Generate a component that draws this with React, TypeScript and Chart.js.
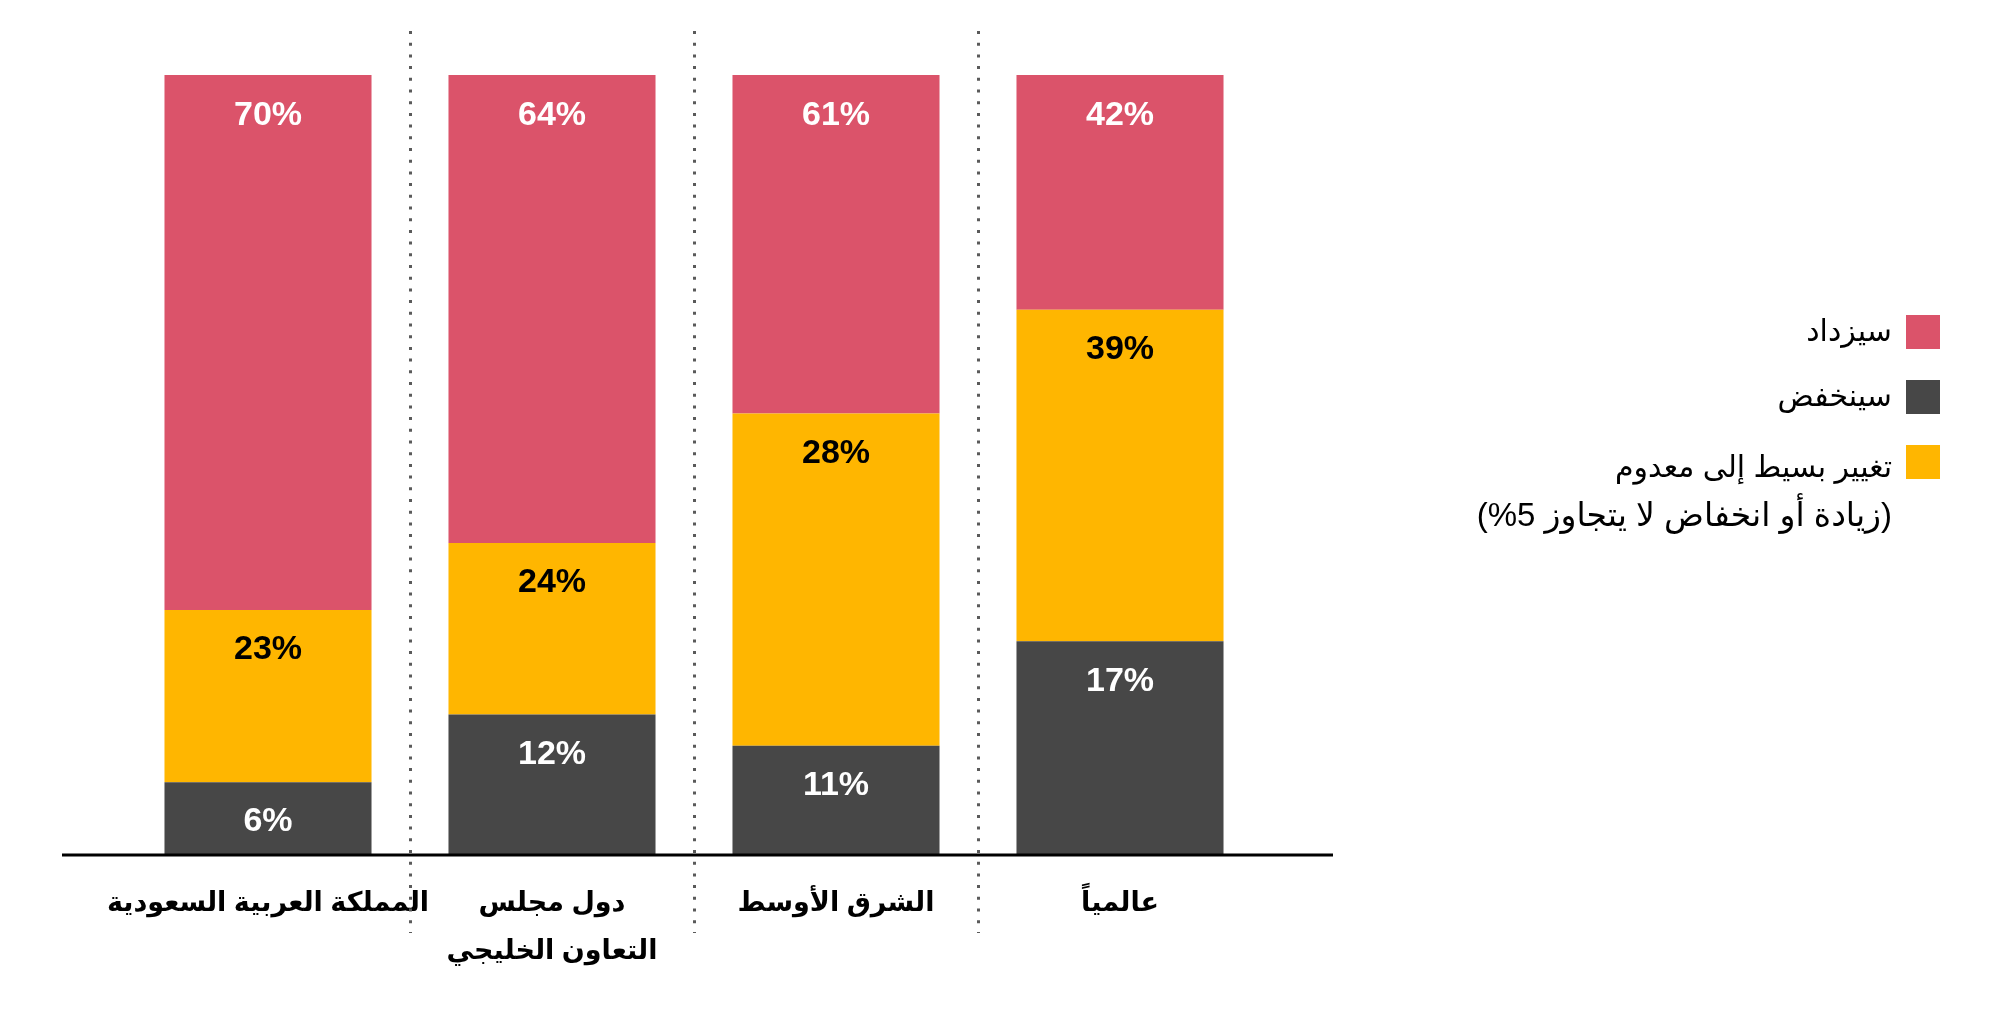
import React, { useEffect, useRef } from 'react';
import { Chart, registerables } from 'chart.js';

Chart.register(...registerables);

// ---------- data ----------
const categories: (string | string[])[] = [
  'المملكة العربية السعودية',
  ['دول مجلس', 'التعاون الخليجي'],
  'الشرق الأوسط',
  'عالمياً',
];

// bar heights as drawn (share of the column, %)
const decreaseValues = [9.3, 18.0, 14.0, 27.4];
const littleChangeValues = [22.1, 22.0, 42.6, 42.5];
const increaseValues = [68.6, 60.0, 43.4, 30.1];

// printed value labels
const decreaseLabels = ['6%', '12%', '11%', '17%'];
const littleChangeLabels = ['23%', '24%', '28%', '39%'];
const increaseLabels = ['70%', '64%', '61%', '42%'];

const increaseName = ['سيزداد'];
const decreaseName = ['سينخفض'];
const littleChangeName = ['تغيير بسيط إلى معدوم', '(زيادة أو انخفاض لا يتجاوز 5%)'];

const RED = '#DB536A';
const YELLOW = '#FFB600';
const DARK = '#474747';

const FONT = '"Liberation Sans", "DejaVu Sans", Arial, sans-serif';

const decorPlugin = {
  id: 'decor',
  beforeDatasetsDraw(chart: any) {
    const { ctx, chartArea } = chart;
    const x = chart.scales.x;
    ctx.save();
    ctx.strokeStyle = '#5a5a5a';
    ctx.lineWidth = 3;
    ctx.setLineDash([3, 8.7]);
    for (let i = 0; i < categories.length - 1; i++) {
      const px = Math.round((x.getPixelForValue(i) + x.getPixelForValue(i + 1)) / 2) + 0.5;
      ctx.beginPath();
      ctx.moveTo(px, chartArea.top - 44);
      ctx.lineTo(px, chartArea.bottom + 78);
      ctx.stroke();
    }
    ctx.restore();
  },
  afterDatasetsDraw(chart: any) {
    const { ctx, chartArea } = chart;
    ctx.save();
    // baseline
    ctx.strokeStyle = '#000';
    ctx.lineWidth = 3;
    ctx.beginPath();
    ctx.moveTo(chartArea.left - 64, chartArea.bottom);
    ctx.lineTo(chartArea.right + 71, chartArea.bottom);
    ctx.stroke();

    // value labels
    ctx.font = `bold 34px ${FONT}`;
    ctx.textAlign = 'center';
    ctx.textBaseline = 'alphabetic';
    chart.data.datasets.forEach((ds: any, di: number) => {
      const meta = chart.getDatasetMeta(di);
      meta.data.forEach((bar: any, i: number) => {
        const top = Math.min(bar.y, bar.base);
        const h = Math.abs(bar.base - bar.y);
        ctx.fillStyle = ds.labelColor;
        ctx.fillText(ds.valueLabels[i], bar.x, top + Math.min(49.5, h / 2 + 12));
      });
    });

    // legend
    const items = [
      { lines: increaseName, color: RED },
      { lines: decreaseName, color: DARK },
      { lines: littleChangeName, color: YELLOW },
    ];
    const boxX = chartArea.right + 644;
    const boxSize = 34;
    ctx.textAlign = 'right';
    ctx.textBaseline = 'middle';
    (ctx as any).direction = 'rtl';
    let top = 315;
    items.forEach((it) => {
      ctx.fillStyle = it.color;
      ctx.fillRect(boxX, top, boxSize, boxSize);
      ctx.fillStyle = '#000';
      const multi = it.lines.length > 1;
      it.lines.forEach((ln, j) => {
        ctx.font = `${j === 0 ? 30 : 33}px ${FONT}`;
        ctx.fillText(ln, boxX - 14, top + boxSize / 2 + (multi ? 7 : 1) + j * 48);
      });
      top += multi ? 66 : 65;
    });
    ctx.restore();
  },
};

export default function App() {
  const ref = useRef<HTMLCanvasElement>(null);
  useEffect(() => {
    if (!ref.current) return;
    const chart = new Chart(ref.current, {
      type: 'bar',
      data: {
        labels: categories as any,
        datasets: [
          {
            label: decreaseName.join(' '),
            data: decreaseValues,
            backgroundColor: DARK,
            valueLabels: decreaseLabels,
            labelColor: '#ffffff',
          } as any,
          {
            label: littleChangeName.join(' '),
            data: littleChangeValues,
            backgroundColor: YELLOW,
            valueLabels: littleChangeLabels,
            labelColor: '#000000',
          } as any,
          {
            label: increaseName.join(' '),
            data: increaseValues,
            backgroundColor: RED,
            valueLabels: increaseLabels,
            labelColor: '#ffffff',
          } as any,
        ],
      },
      options: {
        responsive: false,
        animation: false,
        layout: { padding: { left: 126, right: 738, top: 75, bottom: 16 } },
        datasets: { bar: { categoryPercentage: 1, barPercentage: 0.729, borderWidth: 0 } },
        plugins: { legend: { display: false }, tooltip: { enabled: false } },
        scales: {
          x: {
            stacked: true,
            grid: { display: false, drawTicks: false },
            border: { display: false },
            ticks: {
              color: '#000',
              padding: 25,
              maxRotation: 0,
              autoSkip: false,
              font: { family: FONT, size: 27, weight: 'bold', lineHeight: 1.78 },
            },
          },
          y: { stacked: true, display: false, min: 0, max: 100 },
        },
      },
      plugins: [decorPlugin],
    });
    return () => chart.destroy();
  }, []);
  return (
    <div style={{ position: 'fixed', left: 0, top: 0, width: 2000, height: 1017, background: '#fff' }}>
      <canvas ref={ref} width={2000} height={1017} style={{ width: 2000, height: 1017, display: 'block' }} />
    </div>
  );
}
